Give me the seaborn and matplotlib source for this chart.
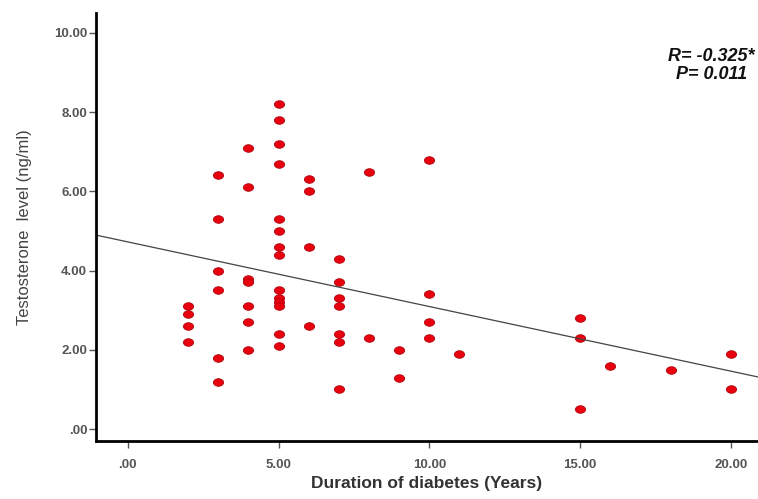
import numpy as np
import pandas as pd
import matplotlib
matplotlib.use('Agg')
import matplotlib.pyplot as plt
from matplotlib.ticker import FuncFormatter
from matplotlib.path import Path
from matplotlib.transforms import Affine2D
import seaborn as sns

sns.set_style('white')
plt.rcParams['font.family'] = ['Liberation Sans', 'DejaVu Sans']

# duration of diabetes (years) and testosterone level (ng/ml)
duration = [2, 2, 2, 2,
            3, 3, 3, 3, 3, 3,
            4, 4, 4, 4, 4, 4, 4,
            5, 5, 5, 5, 5, 5, 5, 5, 5, 5, 5, 5, 5, 5,
            6, 6, 6, 6,
            7, 7, 7, 7, 7, 7, 7,
            8, 8,
            9, 9,
            10, 10, 10, 10,
            11,
            15, 15, 15,
            16, 18,
            20, 20]
testosterone = [3.1, 2.9, 2.6, 2.2,
                6.4, 5.3, 4.0, 3.5, 1.8, 1.2,
                7.1, 6.1, 3.8, 3.7, 3.1, 2.7, 2.0,
                8.2, 7.8, 7.2, 6.7, 5.3, 5.0, 4.6, 4.4, 3.5, 3.3, 3.2, 3.1, 2.4, 2.1,
                6.3, 6.0, 4.6, 2.6,
                4.3, 3.7, 3.3, 3.1, 2.4, 2.2, 1.0,
                6.5, 2.3,
                2.0, 1.3,
                6.8, 3.4, 2.7, 2.3,
                1.9,
                2.8, 2.3, 0.5,
                1.6, 1.5,
                1.9, 1.0]

df = pd.DataFrame({'duration': duration, 'testosterone': testosterone})

# slightly wide dots, like the stretched original
dot = Path.unit_circle().transformed(Affine2D().scale(1.0, 0.74))

fig = plt.figure(figsize=(7.58, 4.99), dpi=100)
ax = fig.add_axes([0.126, 0.117, 0.874, 0.857])
ax.set_xlim(-1.07, 20.9)
ax.set_ylim(-0.29, 10.5)

sns.regplot(x='duration', y='testosterone', data=df, ax=ax, ci=None, truncate=False,
            marker=dot,
            scatter_kws={'color': '#e8000f', 's': 54, 'edgecolor': '#b0000a', 'linewidths': 0.6, 'alpha': 1},
            line_kws={'color': '#444444', 'linewidth': 0.9})

ax.set_xlim(-1.07, 20.9)
ax.set_ylim(-0.29, 10.5)
ax.set_xticks([0, 5, 10, 15, 20])
ax.set_yticks([0, 2, 4, 6, 8, 10])

fmt = FuncFormatter(lambda v, p: '.00' if v == 0 else '%.2f' % v)
ax.xaxis.set_major_formatter(fmt)
ax.yaxis.set_major_formatter(fmt)

for s in ['top', 'right']:
    ax.spines[s].set_visible(False)
for s in ['left', 'bottom']:
    ax.spines[s].set_color('black')
    ax.spines[s].set_linewidth(2)

ax.tick_params(axis='both', direction='out', length=5, width=1, color='#555555',
               labelsize=9.5, labelcolor='#555555', bottom=True, left=True)
ax.tick_params(axis='x', pad=8)
ax.tick_params(axis='y', pad=1)
for lab in ax.get_xticklabels() + ax.get_yticklabels():
    lab.set_fontweight('bold')

ax.set_xlabel('Duration of diabetes (Years)', fontsize=12.5, fontweight='bold',
              color='#333333', labelpad=4)
ax.set_ylabel('Testosterone  level (ng/ml)', fontsize=12, color='#444444', labelpad=16)

ax.text(0.93, 0.898, 'R= -0.325*', transform=ax.transAxes, ha='center', va='center',
        fontsize=13, fontweight='bold', fontstyle='italic', color='#111111')
ax.text(0.93, 0.856, 'P= 0.011', transform=ax.transAxes, ha='center', va='center',
        fontsize=13, fontweight='bold', fontstyle='italic', color='#111111')

fig.savefig('out.png', dpi=100)
